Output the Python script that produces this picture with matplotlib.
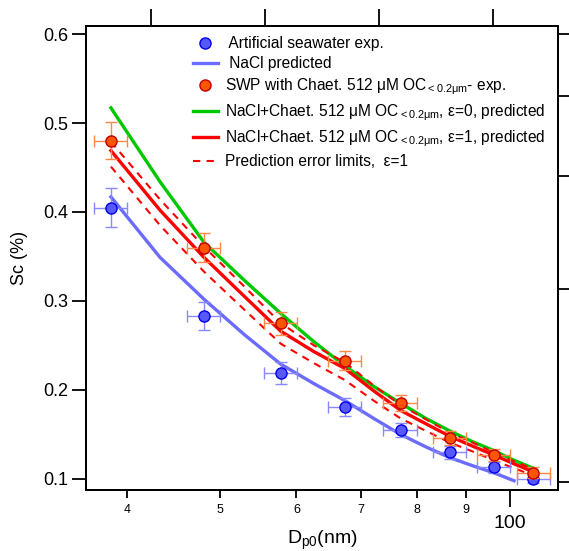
import numpy as np
import matplotlib
matplotlib.use("Agg")
import matplotlib.pyplot as plt
from matplotlib.lines import Line2D
from matplotlib.ticker import FixedLocator, FixedFormatter, NullFormatter

plt.rcParams['font.family'] = ['Liberation Sans', 'DejaVu Sans']
plt.rcParams['mathtext.fontset'] = 'custom'
plt.rcParams['mathtext.rm'] = 'Liberation Sans'
plt.rcParams['mathtext.it'] = 'Liberation Sans'

# measured points (nm, %)
d_exp = [38.5, 48.1, 57.8, 67.4, 77.0, 86.6, 96.2, 105.8]
d_err = [1.5, 1.9, 2.3, 2.7, 3.1, 3.5, 3.8, 4.2]
sc_asw = [0.405, 0.283, 0.219, 0.181, 0.155, 0.130, 0.113, 0.100]
sc_asw_err = [0.022, 0.016, 0.012, 0.010, 0.008, 0.007, 0.006, 0.005]
sc_swp = [0.480, 0.360, 0.275, 0.233, 0.185, 0.146, 0.127, 0.107]
sc_swp_err = [0.021, 0.016, 0.013, 0.011, 0.009, 0.008, 0.007, 0.006]

# predicted curves
d_pred = [38.5, 43.3, 48.1, 53.0, 57.8, 62.6, 67.4, 72.2, 77.0, 81.8, 86.6, 91.4, 96.2, 101.0, 105.8]
nacl_pred = [0.417, 0.349, 0.302, 0.262, 0.229, 0.207, 0.188, 0.168, 0.150, 0.136, 0.124, 0.115, 0.107, 0.098]
eps0_pred = [0.517, 0.434, 0.366, 0.323, 0.286, 0.254, 0.227, 0.204, 0.185, 0.168, 0.154, 0.142, 0.132, 0.121, 0.112]
eps1_pred = [0.469, 0.402, 0.349, 0.305, 0.266, 0.243, 0.224, 0.199, 0.177, 0.162, 0.148, 0.137, 0.127, 0.117, 0.108]
eps1_hi = [0.479, 0.414, 0.361, 0.316, 0.275, 0.250, 0.231, 0.205, 0.183, 0.167, 0.152, 0.141, 0.130, 0.120, 0.111]
eps1_lo = [0.451, 0.385, 0.333, 0.290, 0.252, 0.230, 0.211, 0.188, 0.168, 0.154, 0.141, 0.131, 0.121, 0.112, 0.104]

fig = plt.figure(figsize=(5.69, 5.51), dpi=100)
ax = fig.add_axes([0.1511, 0.1107, 0.8296, 0.8421])

blue_line = '#6b6bff'
dash = (0, (3.5, 3))
ax.plot(d_pred[:len(nacl_pred)], nacl_pred, color=blue_line, lw=2.4, zorder=2)
ax.plot(d_pred, eps0_pred, color='#00c800', lw=2.4, zorder=2)
ax.plot(d_pred, eps1_pred, color='#ff0000', lw=2.4, zorder=2)
ax.plot(d_pred, eps1_hi, color='#ff0000', lw=1.5, ls=dash, zorder=2)
ax.plot(d_pred, eps1_lo, color='#ff0000', lw=1.5, ls=dash, zorder=2)

ax.errorbar(d_exp, sc_asw, xerr=d_err, yerr=sc_asw_err, fmt='o', ms=8,
            mfc='#5858ff', mec='#0000ee', mew=1, ecolor='#8888ff', elinewidth=1,
            capsize=4, capthick=1, zorder=3)
ax.errorbar(d_exp, sc_swp, xerr=d_err, yerr=sc_swp_err, fmt='o', ms=8,
            mfc='#ff5500', mec='#c00000', mew=1, ecolor='#ff8844', elinewidth=1,
            capsize=4, capthick=1, zorder=4)

ax.set_xscale('log')
ax.set_xlim(36.27, 112.2)
ax.set_ylim(0.0876, 0.609)

ax.xaxis.set_major_locator(FixedLocator([100]))
ax.xaxis.set_major_formatter(FixedFormatter(['100']))
ax.xaxis.set_minor_locator(FixedLocator([40, 50, 60, 70, 80, 90]))
ax.xaxis.set_minor_formatter(FixedFormatter(['4', '5', '6', '7', '8', '9']))
ax.tick_params(axis='x', which='major', direction='out', length=12, width=1.3,
               labelsize=14, pad=6)
ax.tick_params(axis='x', which='minor', direction='out', length=6, width=1.3,
               labelsize=9, pad=4)
ax.set_yticks([0.1, 0.2, 0.3, 0.4, 0.5, 0.6])
ax.set_yticklabels(['0.1', '0.2', '0.3', '0.4', '0.5', '0.6'])
ax.tick_params(axis='y', direction='out', length=10, width=1.3, labelsize=13, pad=3)
for s in ax.spines.values():
    s.set_linewidth(1.3)

ax.set_xlabel(r'D$_{\mathrm{p0}}$(nm)', fontsize=14, labelpad=-2)
ax.set_ylabel('Sc (%)', fontsize=13, labelpad=11)

# extra tick marks on top and right axes (no labels)
top = ax.twiny()
top.set_xlim(0, 1)
top.set_xticks([0.138, 0.379, 0.621, 0.862])
top.xaxis.set_major_formatter(NullFormatter())
top.tick_params(axis='x', direction='out', length=12, width=1.3)
right = ax.twinx()
right.set_ylim(0, 1)
right.set_yticks([0.017, 0.433, 0.677, 0.849, 0.983])
right.yaxis.set_major_formatter(NullFormatter())
right.tick_params(axis='y', direction='out', length=8, width=1.3)
for a in (top, right):
    for s in a.spines.values():
        s.set_linewidth(1.3)

oc = r'OC$_{\mathrm{<0.2\mu m}}$'
handles = [
    Line2D([], [], ls='none', marker='o', ms=8, mfc='#5858ff', mec='#0000ee'),
    Line2D([], [], color=blue_line, lw=2.4),
    Line2D([], [], ls='none', marker='o', ms=8, mfc='#ff5500', mec='#c00000'),
    Line2D([], [], color='#00c800', lw=2.4),
    Line2D([], [], color='#ff0000', lw=2.4),
    Line2D([], [], color='#ff0000', lw=1.5, ls=dash),
]
labels = [
    ' Artificial seawater exp.',
    ' NaCl predicted',
    'SWP with Chaet. 512 μM ' + oc + '- exp.',
    'NaCl+Chaet. 512 μM ' + oc + ', ε=0, predicted',
    'NaCl+Chaet. 512 μM ' + oc + ', ε=1, predicted',
    'Prediction error limits,  ε=1',
]
ax.legend(handles, labels, loc='upper left', bbox_to_anchor=(0.205, 1.0),
          frameon=False, fontsize=11.2, handlelength=1.6, handletextpad=0.45,
          labelspacing=0.34, borderaxespad=0.25)

fig.savefig('out.png', dpi=100)
